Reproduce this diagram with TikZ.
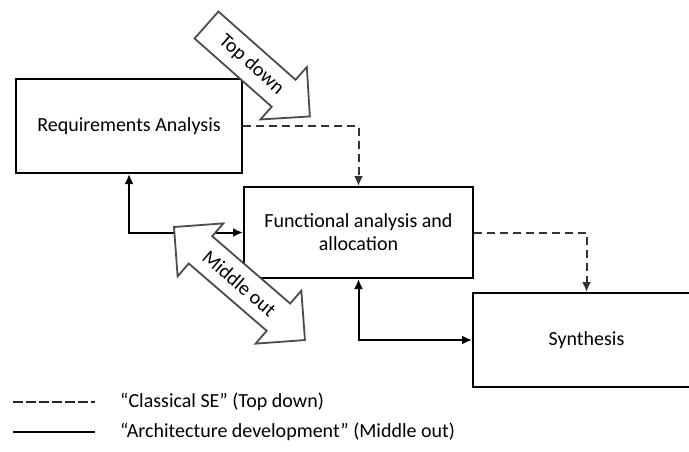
\documentclass[tikz,border=0pt]{standalone}
\usepackage{fontspec}
\setmainfont{Carlito}
\usetikzlibrary{arrows.meta}
\begin{document}
\begin{tikzpicture}[x=1pt,y=-1pt,
  txt/.style={font=\fontsize{20}{23}\selectfont, text=black},
  box/.style={txt, draw=black, line width=2pt, fill=white, align=center, inner sep=0pt},
  conn/.style={line width=2pt, draw=black},
  tiparrow/.style={-{Latex[length=10pt,width=9pt]}},
  dtiparrow/.style={{Latex[length=10pt,width=9pt]}-{Latex[length=10pt,width=9pt]}},
  dashline/.style={line width=2pt, draw=black!80, dash pattern=on 8pt off 5pt},
  blockarrow/.style={draw=black!70, line width=1.8pt, fill=white, line join=miter},
  arrowtext/.style={txt, inner sep=0pt}
]
\clip (0,0) rectangle (689,451);
\fill[white] (0,0) rectangle (689,451);

% boxes
\node[box, minimum width=226pt, minimum height=94pt] (ra) at (129,126) {Requirements Analysis};
\node[box, minimum width=229pt, minimum height=91pt] (fa) at (358.5,232.5) {Functional analysis and\\allocation};
\node[box, minimum width=227pt, minimum height=94pt] (syn) at (586.5,340) {Synthesis};

% classical (dashed) connectors
\draw[dashline, tiparrow] (ra.east) -| (fa.north);
\draw[dashline, tiparrow] (fa.east) -| (syn.north);

% architecture (solid) connectors
\draw[conn, dtiparrow] (ra.south) |- (fa.west);
\draw[conn, dtiparrow] (fa.south) |- (syn.west);

% Top down block arrow
\begin{scope}[shift={(206.5,25)}, rotate=-41.5]
  \draw[blockarrow] (0,-18) -- (103,-18) -- (103,-35) -- (138,0) -- (103,35) -- (103,18) -- (0,18) -- cycle;
  \node[arrowtext, rotate=-41.5] (td) at (60,0) {Top down};
\end{scope}

% Middle out double block arrow
\begin{scope}[shift={(174,227)}, rotate=-40.8]
  \draw[blockarrow] (0,0) -- (35,35) -- (35,18) -- (138,18) -- (138,35) -- (173,0) -- (138,-35) -- (138,-18) -- (35,-18) -- (35,-35) -- cycle;
  \node[arrowtext, rotate=-40.8] (mo) at (86.5,0) {Middle out};
\end{scope}

% legend
\coordinate (l1a) at (13,402);
\coordinate (l1b) at (95,402);
\coordinate (l2a) at (13,432);
\coordinate (l2b) at (95,432);
\draw[line width=1.6pt, draw=black!85, dash pattern=on 10pt off 3pt] (l1a) -- (l1b);
\draw[line width=2pt, draw=black] (l2a) -- (l2b);
\node[txt, anchor=west, inner sep=0pt] (lg1) at (120,402) {“Classical SE” (Top down)};
\node[txt, anchor=west, inner sep=0pt] (lg2) at (120,432) {“Architecture development” (Middle out)};
\end{tikzpicture}
\end{document}
